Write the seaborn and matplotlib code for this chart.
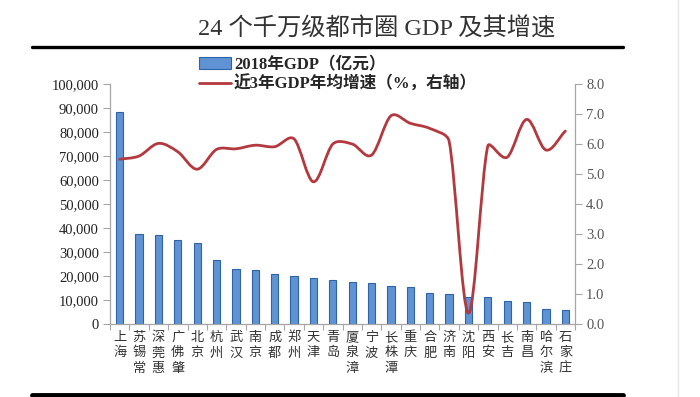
import numpy as np
import pandas as pd
import matplotlib
matplotlib.use("Agg")
import matplotlib.pyplot as plt
import seaborn as sns
from matplotlib.path import Path
from matplotlib.patches import PathPatch, Patch
from matplotlib.lines import Line2D
from matplotlib.ticker import FuncFormatter, MultipleLocator

# ---- data ----
cities = ["上海", "苏锡常", "深莞惠", "广佛肇", "北京", "杭州", "武汉", "南京",
          "成都", "郑州", "天津", "青岛", "厦泉漳", "宁波", "长株潭", "重庆",
          "合肥", "济南", "沈阳", "西安", "长吉", "南昌", "哈尔滨", "石家庄"]
gdp_2018 = [88300, 37300, 36900, 35000, 33800, 26800, 22900, 22500,
            20900, 20000, 19100, 18200, 17300, 17200, 16000, 15300,
            13100, 12400, 11300, 11100, 9600, 9200, 6400, 6000]
growth_3y = [5.49, 5.60, 6.02, 5.74, 5.16, 5.82, 5.84, 5.96,
             5.91, 6.17, 4.74, 6.00, 6.00, 5.63, 6.94, 6.69,
             6.52, 6.10, 0.36, 5.93, 5.56, 6.82, 5.80, 6.43]
legend_labels = ["2018年GDP（亿元）", "近3年GDP年均增速（%，右轴）"]
title = "24 个千万级都市圈 GDP 及其增速"

BAR = "#5f93d3"
BAR_EDGE = "#2d64a8"
LINE = "#b3393f"
SPINE = "#a6a6a6"

sns.set_theme(style="white")
plt.rcParams['font.family'] = ['Liberation Serif', 'Noto Sans CJK SC', 'DejaVu Sans']

W, H = 700, 397
fig = plt.figure(figsize=(W / 100, H / 100), dpi=100)
ax = fig.add_axes([110 / W, 1 - 324 / H, 465 / W, 240 / H])

df = pd.DataFrame({"city": cities, "gdp": gdp_2018})
sns.barplot(data=df, x="city", y="gdp", ax=ax, color=BAR, saturation=1,
            width=0.37, edgecolor=BAR_EDGE, linewidth=0.8)
ax.set_xlim(-0.5, len(cities) - 0.5)
ax.set_ylim(0, 100000)
ax.set_xlabel("")
ax.set_ylabel("")
ax.yaxis.set_major_locator(MultipleLocator(10000))
ax.yaxis.set_major_formatter(FuncFormatter(lambda v, p: f"{int(v):,}"))
ax.set_xticks(range(len(cities)))
ax.set_xticklabels(["\n".join(c) for c in cities],
                   family=['Noto Sans CJK SC'], fontsize=9.5, color="#333",
                   linespacing=1.25, va="top")
ax.set_xticks(np.arange(-0.5, len(cities), 1), minor=True)
ax.tick_params(axis='x', which='major', length=0, pad=5)
ax.tick_params(axis='x', which='minor', bottom=True, length=4, color=SPINE, width=0.8)
ax.tick_params(axis='y', left=True, length=5, color=SPINE, width=0.8,
               labelsize=10.5, labelcolor="#222", pad=3)
for s in ["top", "right"]:
    ax.spines[s].set_visible(False)
for s in ["left", "bottom"]:
    ax.spines[s].set_color(SPINE)
    ax.spines[s].set_linewidth(0.9)

# ---- right axis with smoothed line ----
ax2 = ax.twinx()
ax2.set_ylim(0, 8)
ax2.yaxis.set_major_locator(MultipleLocator(1))
ax2.yaxis.set_major_formatter(FuncFormatter(lambda v, p: f"{v:.1f}"))
ax2.tick_params(axis='y', right=True, length=5, color=SPINE, width=0.8,
                labelsize=10.5, labelcolor="#555", pad=3)
for s in ["top", "left", "bottom"]:
    ax2.spines[s].set_visible(False)
ax2.spines["right"].set_color(SPINE)
ax2.spines["right"].set_linewidth(0.9)

# smoothed (Bezier) rendering of the line; tangent arms scaled by segment
# length on screen and clamped horizontally to avoid loops/overshoot
xs = np.arange(len(growth_3y), dtype=float)
ys = np.asarray(growth_3y, dtype=float)
n = len(xs)
sx = 465 / n          # px per category
sy = 240 / 8          # px per unit on right axis
P = np.column_stack([xs * sx, ys * sy])
tang = []
for i in range(n):
    d = P[min(i + 1, n - 1)] - P[max(i - 1, 0)]
    tang.append(d / np.linalg.norm(d))


def arm(t, L):
    a = t * L * 0.34
    if abs(a[0]) > sx / 3:
        a = a * (sx / 3) / abs(a[0])
    return a


verts = [(xs[0], ys[0])]
codes = [Path.MOVETO]
for i in range(n - 1):
    L = np.linalg.norm(P[i + 1] - P[i])
    c1 = P[i] + arm(tang[i], L)
    c2 = P[i + 1] - arm(tang[i + 1], L)
    for c in (c1, c2):
        verts.append((c[0] / sx, c[1] / sy))
    verts.append((xs[i + 1], ys[i + 1]))
    codes += [Path.CURVE4] * 3
ax2.add_patch(PathPatch(Path(verts, codes), facecolor="none", edgecolor=LINE,
                        lw=2.0, capstyle="round", joinstyle="round"))

# ---- legend ----
handles = [Patch(facecolor=BAR, edgecolor=BAR_EDGE, linewidth=0.8),
           Line2D([], [], color=LINE, lw=2)]
fig.legend(handles, legend_labels, loc="upper left",
           bbox_to_anchor=(199 / W, 1 - 57 / H), frameon=False,
           prop=dict(family=['Liberation Serif', 'Noto Sans CJK SC'],
                     weight='bold', size=12),
           handlelength=1.9, handletextpad=0.2, labelspacing=0.14,
           borderaxespad=0, borderpad=0)

# ---- title and decorative rules ----
fig.text(377 / W, 1 - 29 / H, title, ha="center", va="center",
         family=['Liberation Serif', 'Noto Sans CJK SC'], size=17.5, color="#333")
fig.add_artist(Line2D([32 / W, 623 / W], [1 - 47 / H] * 2, color="black",
                      lw=2.4, transform=fig.transFigure))
fig.add_artist(Line2D([32 / W, 623 / W], [1 - 395 / H] * 2, color="black",
                      lw=3.5, transform=fig.transFigure))
fig.add_artist(Line2D([678 / W] * 2, [0, 1], color="#e6e6e6",
                      lw=1, transform=fig.transFigure))

fig.savefig("out.png", dpi=100)
